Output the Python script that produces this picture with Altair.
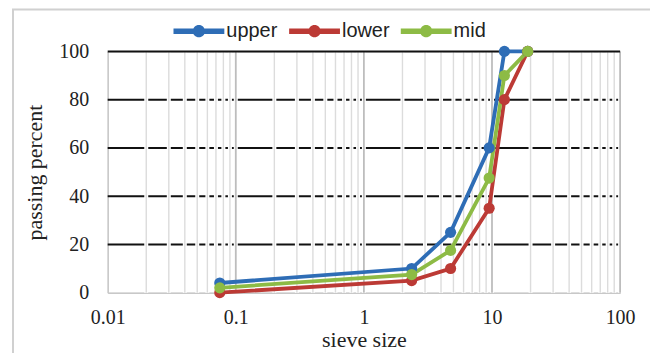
import altair as alt
import pandas as pd

series_names = ["upper", "lower", "mid"]
sieve = [0.075, 2.36, 4.75, 9.5, 12.5, 19]
upper = [4, 10, 25, 60, 100, 100]
lower = [0, 5, 10, 35, 80, 100]
mid = [2, 7.5, 17.5, 47.5, 90, 100]
colors = ["#2E6DB6", "#BC3A35", "#8DBB45"]

major_ticks = [0.01, 0.1, 1, 10, 100]
minor_ticks = [m * d for d in [0.01, 0.1, 1, 10] for m in range(2, 10)]
y_grid = [20, 40, 60, 80]
y_top = [100]

rows = []
for name, vals in zip(series_names, [upper, lower, mid]):
    for s, v in zip(sieve, vals):
        rows.append({"series": name, "size": s, "pct": v})
df = pd.DataFrame(rows)

W, H = 514, 242
xs = alt.Scale(type="log", domain=[0.01, 100], nice=False)
ys = alt.Scale(domain=[0, 100], nice=False)

xaxis = alt.Axis(values=major_ticks, labelExpr="datum.value >= 1 ? format(datum.value, 'd') : format(datum.value, '')",
                 grid=False, ticks=False, domainColor="#c8c8c8", domainWidth=1.5,
                 labelFlush=False, labelOverlap=False,
                 labelFont="Liberation Serif", labelFontSize=20, labelColor="#222",
                 labelPadding=15, title="sieve size", titleFont="Liberation Serif",
                 titleFontSize=22, titleFontWeight="normal", titleColor="#222", titlePadding=2)
yaxis = alt.Axis(values=[0, 20, 40, 60, 80, 100], grid=False, ticks=False, domainColor="#c8c8c8",
                 domainWidth=1.5, labelFont="Liberation Serif", labelFontSize=20, labelColor="#222",
                 labelPadding=19, title="passing percent", titleFont="Liberation Serif",
                 titleFontSize=22, titleFontWeight="normal", titleColor="#222", titlePadding=12)

border = alt.Chart(pd.DataFrame({"a": [0]})).mark_rect(
    fill=None, stroke="#d0d0d0", strokeWidth=2, clip=False
).encode(x=alt.value(-95), x2=alt.value(545), y=alt.value(-42), y2=alt.value(320))

hlines = alt.Chart(pd.DataFrame({"y": y_grid})).mark_rule(color="#111", strokeWidth=2).encode(
    y=alt.Y("y:Q", scale=ys, axis=yaxis))

vhalo = alt.Chart(pd.DataFrame({"x": minor_ticks + major_ticks[1:]})).mark_rule(
    color="white", strokeWidth=4).encode(
    x=alt.X("x:Q", scale=xs, axis=xaxis), y=alt.value(0), y2=alt.value(H))
vminor = alt.Chart(pd.DataFrame({"x": minor_ticks})).mark_rule(
    color="#dcdcdc", strokeWidth=1.4).encode(
    x=alt.X("x:Q", scale=xs), y=alt.value(0), y2=alt.value(H))
vmajor = alt.Chart(pd.DataFrame({"x": major_ticks[1:]})).mark_rule(
    color="#bdbdbd", strokeWidth=1.8).encode(
    x=alt.X("x:Q", scale=xs), y=alt.value(0), y2=alt.value(H))
toplines = alt.Chart(pd.DataFrame({"y": y_top})).mark_rule(color="#111", strokeWidth=2).encode(
    y=alt.Y("y:Q", scale=ys))

sym = ("M-1,-0.11 L1,-0.11 L1,0.11 L-1,0.11 Z "
       "M0.24,0 A0.24,0.24 0 1,1 -0.24,0 A0.24,0.24 0 1,1 0.24,0 Z")
color = alt.Color("series:N", scale=alt.Scale(domain=series_names, range=colors),
                  sort=series_names,
                  legend=alt.Legend(title=None, orient="none", direction="horizontal",
                                    legendX=66, legendY=-46, symbolType=sym, symbolSize=2600,
                                    symbolStrokeWidth=0, symbolOpacity=1,
                                    labelFont="Liberation Sans", labelFontSize=20,
                                    labelColor="#222", labelOffset=2, columnPadding=11))

lines = alt.Chart(df).mark_line(strokeWidth=3.8).encode(
    x=alt.X("size:Q", scale=xs), y=alt.Y("pct:Q", scale=ys), color=color,
    order=alt.Order("size:Q"))
points = alt.Chart(df).mark_point(filled=True, size=125, opacity=1).encode(
    x=alt.X("size:Q", scale=xs), y=alt.Y("pct:Q", scale=ys), color=color)

chart = alt.layer(border, hlines, vhalo, vminor, vmajor, toplines, lines, points).properties(
    width=W, height=H,
    autosize=alt.AutoSizeParams(type="none"),
    padding={"left": 100, "top": 43, "right": 30, "bottom": 60},
).configure_view(stroke=None).configure(background="white")

chart.save("out.html", embed_options={"renderer": "svg", "actions": False})
